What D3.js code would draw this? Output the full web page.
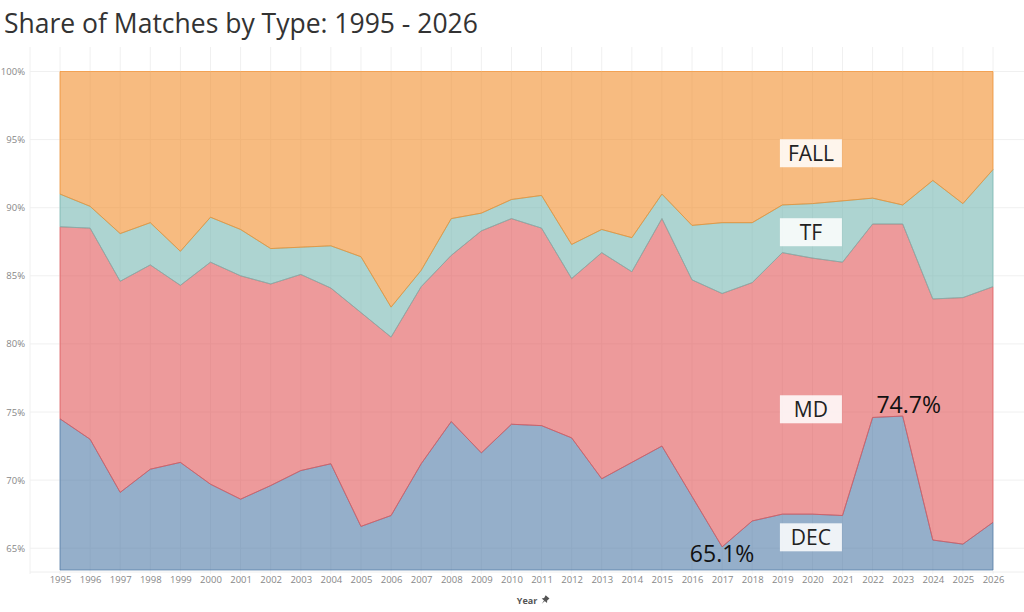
<!DOCTYPE html>
<html>
<head>
<meta charset="utf-8">
<script src="https://cdn.jsdelivr.net/npm/d3@7"></script>
<style>
  body { margin: 0; background: #fff; }
  text { font-family: "Open Sans", "Noto Sans", sans-serif; }
</style>
</head>
<body>
<div id="chart"></div>
<script>
// Data (share of matches, %)
var years = d3.range(1995, 2027);
var dec  = [74.5, 73.0, 69.1, 70.8, 71.3, 69.7, 68.6, 69.6, 70.7, 71.2, 66.6, 67.4, 71.2, 74.3, 72.0, 74.1,
            74.0, 73.1, 70.1, 71.3, 72.5, 68.8, 65.1, 67.0, 67.5, 67.5, 67.4, 74.6, 74.7, 65.6, 65.3, 66.9];
var md   = [14.1, 15.5, 15.5, 15.0, 13.0, 16.3, 16.4, 14.8, 14.4, 12.9, 15.7, 13.1, 13.0, 12.2, 16.3, 15.1,
            14.5, 11.7, 16.6, 14.0, 16.7, 15.9, 18.6, 17.5, 19.2, 18.8, 18.6, 14.2, 14.1, 17.7, 18.1, 17.3];
var tf   = [2.4, 1.6, 3.5, 3.1, 2.5, 3.3, 3.4, 2.6, 2.0, 3.1, 4.1, 2.2, 1.2, 2.7, 1.3, 1.4,
            2.4, 2.5, 1.7, 2.5, 1.8, 4.0, 5.2, 4.4, 3.5, 4.0, 4.5, 1.9, 1.4, 8.7, 6.9, 8.6];
var fall = [9.0, 9.9, 11.9, 11.1, 13.2, 10.7, 11.6, 13.0, 12.9, 12.8, 13.6, 17.3, 14.6, 10.8, 10.4, 9.4,
            9.1, 12.7, 11.6, 12.2, 9.0, 11.3, 11.1, 11.1, 9.8, 9.7, 9.5, 9.3, 9.8, 8.0, 9.7, 7.2];
var types = ["dec", "md", "tf", "fall"];
var typeLabels = ["DEC", "MD", "TF", "FALL"];
var yTicks = [65, 70, 75, 80, 85, 90, 95, 100];

var colors = {dec: "#4e79a7", md: "#e15759", tf: "#76b7b2", fall: "#f28e2b"};

var svgWidth = 1024;
var svgHeight = 612;

var svg = d3.select("#chart")
    .append("svg")
    .attr("width", svgWidth)
    .attr("height", svgHeight);

// rows for the stack
var table = years.map(function(y, i) {
    return {year: y, dec: dec[i], md: md[i], tf: tf[i], fall: fall[i]};
});
var series = d3.stack().keys(types)(table);

var xScale = d3.scaleLinear().domain([1995, 2026]).range([60, 993]);
var yScale = d3.scaleLinear().domain([63.4, 100]).range([570, 71.5]).clamp(true);

// title
svg.append("text")
    .attr("x", 4)
    .attr("y", 33)
    .attr("font-size", "26.5px")
    .attr("fill", "#333")
    .text("Share of Matches by Type: 1995 - 2026");

// gridlines
var grid = svg.append("g");
grid.selectAll(".hgrid")
    .data(yTicks)
    .enter()
    .append("line")
    .attr("x1", 30).attr("x2", 1024)
    .attr("y1", d => yScale(d)).attr("y2", d => yScale(d))
    .attr("stroke", "#f0f0f0");
grid.selectAll(".vgrid")
    .data(years)
    .enter()
    .append("line")
    .attr("x1", d => xScale(d)).attr("x2", d => xScale(d))
    .attr("y1", 47).attr("y2", 574)
    .attr("stroke", "#f0f0f0");
grid.append("line")
    .attr("x1", 30).attr("x2", 30).attr("y1", 47).attr("y2", 574)
    .attr("stroke", "#f0f0f0");
grid.append("line")
    .attr("x1", 30).attr("x2", 1024).attr("y1", 572).attr("y2", 572)
    .attr("stroke", "#eeeeee");

// stacked areas
var area = d3.area()
    .x(d => xScale(d.data.year))
    .y0(d => yScale(d[0]))
    .y1(d => yScale(d[1]));

svg.append("g")
    .selectAll("path")
    .data(series)
    .enter()
    .append("path")
    .attr("d", area)
    .attr("fill", d => colors[d.key])
    .attr("fill-opacity", 0.6)
    .attr("stroke", d => colors[d.key])
    .attr("stroke-opacity", 0.7)
    .attr("stroke-width", 1);

// y axis labels
var leftAxis = d3.axisLeft(yScale)
    .tickValues(yTicks)
    .tickFormat(d => d + "%")
    .tickSize(0)
    .tickPadding(0);
var yAxis = svg.append("g")
    .attr("transform", "translate(25,0)")
    .call(leftAxis);
yAxis.select(".domain").remove();
yAxis.selectAll("text")
    .attr("font-size", "9.5px")
    .attr("fill", "#888")
    .attr("font-family", "'Open Sans', sans-serif");

// x axis labels
var bottomAxis = d3.axisBottom(xScale)
    .tickValues(years)
    .tickFormat(d3.format("d"))
    .tickSize(0)
    .tickPadding(0);
var xAxis = svg.append("g")
    .attr("transform", "translate(0,576)")
    .call(bottomAxis);
xAxis.select(".domain").remove();
xAxis.selectAll("text")
    .attr("font-size", "9.5px")
    .attr("fill", "#888")
    .attr("font-family", "'Open Sans', sans-serif");

// axis title + pin
svg.append("text")
    .attr("x", 527)
    .attr("y", 604)
    .attr("text-anchor", "middle")
    .attr("font-size", "9px")
    .attr("font-weight", "bold")
    .attr("fill", "#555")
    .text("Year");
svg.append("path")
    .attr("transform", "translate(545,600) rotate(40)")
    .attr("d", "M-2.5,-4 L2.5,-4 L2,-1 L3.5,1 L-3.5,1 L-2,-1 Z M-0.5,1 L0,5 L0.5,1 Z")
    .attr("fill", "#555");

// series labels
var labelPos = [65.8, 75.2, 88.2, 94.0];
var labels = svg.append("g");
typeLabels.forEach(function(t, i) {
    var cx = xScale(2019.95);
    var cy = yScale(labelPos[i]);
    labels.append("rect")
        .attr("x", cx - 31)
        .attr("y", cy - 14)
        .attr("width", 62)
        .attr("height", 28)
        .attr("fill", "#fff")
        .attr("fill-opacity", 0.85);
    labels.append("text")
        .attr("x", cx)
        .attr("y", cy + 7.5)
        .attr("text-anchor", "middle")
        .attr("font-size", "21px")
        .attr("font-weight", 500)
        .attr("fill", "#222")
        .text(t);
});

// min / max annotations on DEC
var minIdx = years.indexOf(2017);
var maxIdx = years.indexOf(2023);
svg.append("text")
    .attr("x", xScale(2017))
    .attr("y", yScale(dec[minIdx]) + 15)
    .attr("text-anchor", "middle")
    .attr("font-size", "23px")
    .attr("fill", "#111")
    .text(dec[minIdx].toFixed(1) + "%");
svg.append("text")
    .attr("x", xScale(2023) + 6)
    .attr("y", yScale(dec[maxIdx]) - 3)
    .attr("text-anchor", "middle")
    .attr("font-size", "23px")
    .attr("fill", "#111")
    .text(dec[maxIdx].toFixed(1) + "%");
</script>
</body>
</html>
